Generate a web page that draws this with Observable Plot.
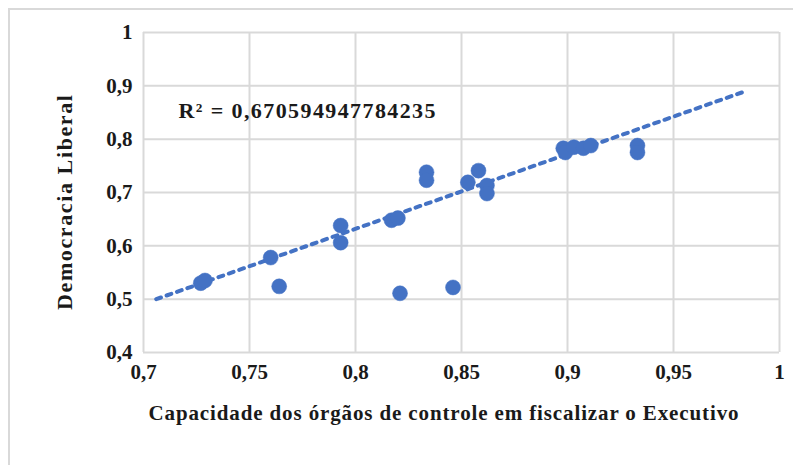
<!DOCTYPE html>
<html>
<head>
<meta charset="utf-8">
<script src="https://cdn.jsdelivr.net/npm/d3@7"></script>
<script src="https://cdn.jsdelivr.net/npm/@observablehq/plot@0.6"></script>
<style>
  html, body { margin: 0; padding: 0; background: #fff; }
  #wrap { position: relative; width: 793px; height: 465px; overflow: hidden; }
  #frame { position: absolute; left: 8px; top: 8px; width: 800px; height: 500px; border: 2px solid #d9d9d9; box-sizing: border-box; }
  #chart { position: absolute; left: 0; top: 0; }
</style>
</head>
<body>
<div id="wrap"><div id="frame"></div><div id="chart"></div></div>
<script>
// Capacidade dos órgãos de controle (x) vs Democracia Liberal (y)
const xValues = [0.727, 0.729, 0.760, 0.764, 0.793, 0.793, 0.817, 0.820, 0.821, 0.8335, 0.8335, 0.846,
                 0.853, 0.858, 0.862, 0.862, 0.898, 0.899, 0.903, 0.9075, 0.911, 0.933, 0.933];
const yValues = [0.530, 0.535, 0.578, 0.524, 0.638, 0.606, 0.648, 0.652, 0.511, 0.738, 0.723, 0.522,
                 0.719, 0.741, 0.713, 0.698, 0.783, 0.775, 0.785, 0.783, 0.788, 0.788, 0.775];
const trendX = [0.706, 0.984];
const trendY = [0.500, 0.890];
const xTicks = [0.7, 0.75, 0.8, 0.85, 0.9, 0.95, 1];
const yTicks = [0.4, 0.5, 0.6, 0.7, 0.8, 0.9, 1];
const r2Label = "R² = 0,670594947784235";
const xTitle = "Capacidade dos órgãos de controle em fiscalizar o Executivo";
const yTitle = "Democracia Liberal";

const points = xValues.map((x, i) => ({x, y: yValues[i]}));
const trend = trendX.map((x, i) => ({x, y: trendY[i]}));
const fmt = d => String(+d.toFixed(2)).replace(".", ",");
const blue = "#4472c4";
const grid = "#d9d9d9";
const ink = "#1a1a1a";

const chart = Plot.plot({
  width: 793,
  height: 465,
  marginLeft: 143,
  marginRight: 14,
  marginTop: 32,
  marginBottom: 113,
  style: {fontFamily: "'Liberation Serif', 'Times New Roman', serif", fontWeight: "bold", fontSize: "21px", color: ink, background: "transparent"},
  x: {domain: [0.7, 1]},
  y: {domain: [0.4, 1]},
  marks: [
    Plot.gridX(xTicks, {stroke: grid, strokeOpacity: 1, strokeWidth: 2}),
    Plot.gridY(yTicks, {stroke: grid, strokeOpacity: 1, strokeWidth: 2}),
    Plot.axisX(xTicks, {tickSize: 0, tickPadding: 12, tickFormat: fmt, label: null, fontSize: 21}),
    Plot.axisY(yTicks, {tickSize: 0, tickPadding: 11, tickFormat: fmt, label: null, fontSize: 21}),
    Plot.line(trend, {x: "x", y: "y", stroke: blue, strokeWidth: 4, strokeDasharray: "5,6"}),
    Plot.dot(points, {x: "x", y: "y", r: 7.5, fill: blue, stroke: blue, strokeWidth: 0.5}),
    Plot.text([r2Label], {text: d => d, frameAnchor: "top-left", textAnchor: "start", lineAnchor: "middle", dx: 35, dy: 78, fontSize: 22, fill: ink}),
    Plot.text([xTitle], {text: d => d, frameAnchor: "bottom", textAnchor: "middle", lineAnchor: "middle", dx: -18, dy: 61, fontSize: 21, fill: ink}),
    Plot.text([yTitle], {text: d => d, frameAnchor: "left", textAnchor: "middle", lineAnchor: "middle", rotate: -90, dx: -79, dy: 10, fontSize: 22, fill: ink})
  ]
});
const lengths = new Map([[xTitle, 590], [yTitle, 215], [r2Label, 257]]);
d3.select(chart).selectAll("text").each(function() {
  const len = lengths.get(this.textContent);
  if (len) {
    this.setAttribute("textLength", len);
    this.setAttribute("lengthAdjust", "spacing");
  }
});
document.getElementById("chart").appendChild(chart);
</script>
</body>
</html>
